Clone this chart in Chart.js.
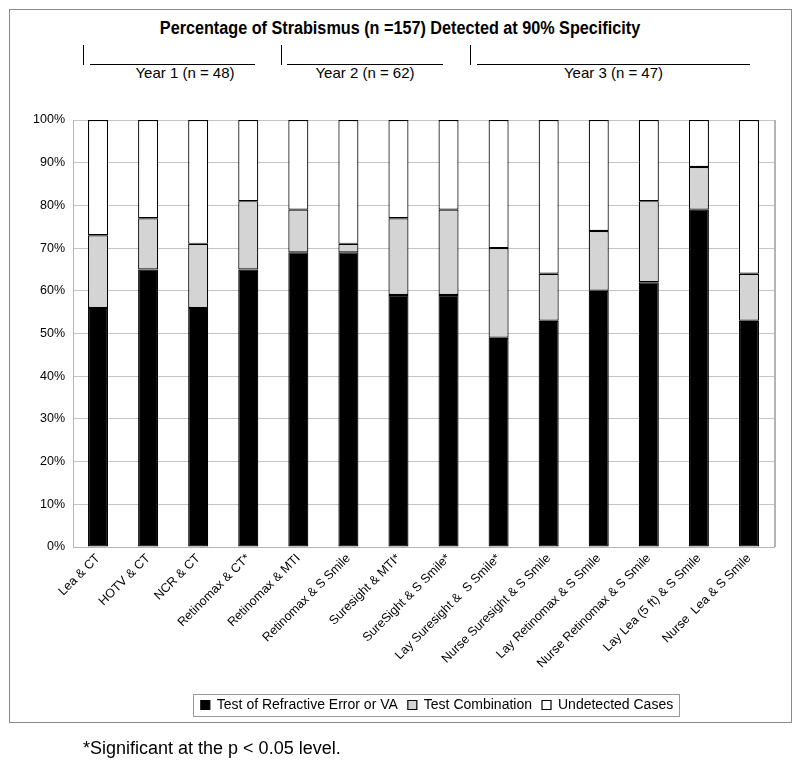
<!DOCTYPE html>
<html>
<head>
<meta charset="utf-8">
<script src="https://cdn.jsdelivr.net/npm/chart.js@4.4.0/dist/chart.umd.min.js"></script>
<style>
  body { margin: 0; background: #fff; font-family: "Liberation Sans", Arial, sans-serif; }
  #wrap { position: relative; width: 800px; height: 766px; }
  #frame { position: absolute; left: 9px; top: 9px; width: 781px; height: 712px; border: 1px solid #8a8a8a; }
  #title { position: absolute; left: 0; width: 800px; top: 18px; text-align: center;
    font-weight: bold; font-size: 18px; transform: scaleX(0.9); }
  .yr { position: absolute; top: 64px; text-align: center; font-size: 15px; }
  .bar { position: absolute; top: 45px; height: 20px; border-left: 1px solid #000; }
  .line { position: absolute; top: 64px; height: 0; border-top: 1px solid #000; }
  #note { position: absolute; left: 83px; top: 738px; font-size: 18px; }
  canvas { position: absolute; left: 0; top: 0; }
</style>
</head>
<body>
<div id="wrap">
  <div id="frame"></div>
  <div id="title">Percentage of Strabismus (n =157) Detected at 90% Specificity</div>
  <div class="bar" style="left:83px"></div><div class="line" style="left:90px;width:165px"></div>
  <div class="yr" style="left:90px;width:190px">Year 1 (n = 48)</div>
  <div class="bar" style="left:281px"></div><div class="line" style="left:287px;width:156px"></div>
  <div class="yr" style="left:287px;width:156px">Year 2 (n = 62)</div>
  <div class="bar" style="left:470px"></div><div class="line" style="left:477px;width:273px"></div>
  <div class="yr" style="left:477px;width:273px">Year 3 (n = 47)</div>
  <canvas id="myChart" width="800" height="766"></canvas>
  <div id="note">*Significant at the p &lt; 0.05 level.</div>
</div>
<script>
var categories = ["Lea & CT", "HOTV & CT", "NCR & CT", "Retinomax & CT*", "Retinomax & MTI",
  "Retinomax & S Smile", "Suresight & MTI*", "SureSight & S Smile*", "Lay Suresight &  S Smile*",
  "Nurse Suresight & S Smile", "Lay Retinomax & S Smile", "Nurse Retinomax & S Smile",
  "Lay Lea (5 ft) & S Smile", "Nurse  Lea & S Smile"];
var refractiveVA = [56, 65, 56, 65, 69, 69, 59, 59, 49, 53, 60, 62, 79, 53];
var combination = [17, 12, 15, 16, 10, 2, 18, 20, 21, 11, 14, 19, 10, 11];
var undetected = [27, 23, 29, 19, 21, 29, 23, 21, 30, 36, 26, 19, 11, 36];
var seriesNames = ["Test of Refractive Error or VA", "Test Combination", "Undetected Cases"];

var legendBox = {
  id: 'legendBox',
  afterLayout: function(chart) {
    // legend in the reference sits right of centre
    chart.legend.left += 50;
    chart.legend.right += 50;
  },
  afterDraw: function(chart) {
    var boxes = chart.legend.legendHitBoxes;
    if (!boxes || !boxes.length) return;
    var l = boxes[0].left, r = boxes[boxes.length - 1].left + boxes[boxes.length - 1].width;
    var t = boxes[0].top, b = boxes[0].top + boxes[0].height;
    var ctx = chart.ctx;
    ctx.save();
    ctx.strokeStyle = '#999';
    ctx.lineWidth = 1;
    ctx.strokeRect(Math.round(l - 8) + 0.5, Math.round(t - 4) + 0.5, Math.round(r - l + 14), Math.round(b - t + 8));
    // right edge of plot area
    ctx.strokeStyle = '#b4b4b4';
    ctx.lineWidth = 2;
    ctx.beginPath();
    ctx.moveTo(chart.chartArea.right + 1, chart.chartArea.top);
    ctx.lineTo(chart.chartArea.right + 1, chart.chartArea.bottom);
    ctx.stroke();
    ctx.restore();
  }
};

var ctx = document.getElementById('myChart').getContext('2d');
var myChart = new Chart(ctx, {
  type: 'bar',
  data: {
    labels: categories,
    datasets: [
      { label: seriesNames[0], data: refractiveVA, backgroundColor: '#000', borderColor: '#000', borderWidth: 1.2, borderSkipped: false },
      { label: seriesNames[1], data: combination, backgroundColor: '#d4d4d4', borderColor: '#000', borderWidth: 1.2, borderSkipped: false },
      { label: seriesNames[2], data: undetected, backgroundColor: '#fff', borderColor: '#000', borderWidth: 1.2, borderSkipped: false }
    ]
  },
  options: {
    responsive: false,
    animation: false,
    barPercentage: 0.8,
    categoryPercentage: 0.5,
    layout: { padding: { left: 0, right: 26, top: 120, bottom: 44 } },
    scales: {
      x: {
        stacked: true,
        grid: { display: false, drawTicks: false },
        border: { display: true, color: '#b4b4b4' },
        ticks: { color: '#000', font: { family: 'Liberation Sans', size: 12.5 }, minRotation: 45, maxRotation: 45, autoSkip: false, padding: 4 },
        afterFit: function(scale) { scale.height = 141; }
      },
      y: {
        stacked: true,
        min: 0, max: 100,
        grid: { color: '#c4c4c4', drawTicks: false },
        border: { color: '#b4b4b4' },
        ticks: { stepSize: 10, color: '#000', padding: 8, font: { family: 'Liberation Sans', size: 12.5 },
          callback: function(v) { return v + '%'; } },
        afterFit: function(scale) { scale.width = 73; }
      }
    },
    plugins: {
      legend: {
        position: 'bottom',
        labels: { color: '#000', boxWidth: 9, boxHeight: 9, padding: 10, font: { family: 'Liberation Sans', size: 14 } }
      },
      tooltip: { enabled: false }
    }
  },
  plugins: [legendBox]
});
</script>
</body>
</html>
